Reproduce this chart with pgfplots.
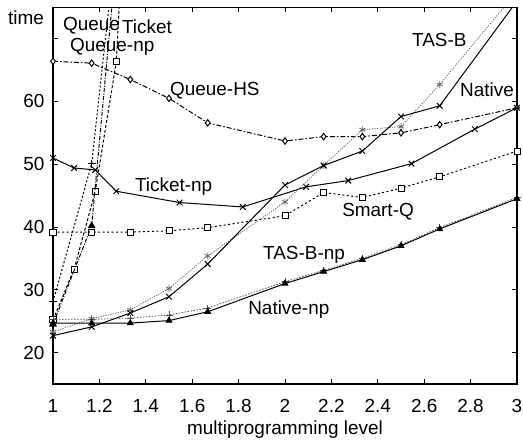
\documentclass[border=0pt]{standalone}
\usepackage{pgfplots}
\pgfplotsset{compat=1.18}
\usepackage{fontspec}
\setmainfont{Liberation Sans}
\begin{document}
\fontsize{19}{22}\selectfont
\begin{tikzpicture}
\begin{axis}[
    name=ax,
    scale only axis,
    width=464bp, height=376.7bp,
    xmin=1, xmax=3, ymin=15, ymax=75,
    xtick={1,1.2,1.4,1.6,1.8,2,2.2,2.4,2.6,2.8,3},
    xticklabels={1,1.2,1.4,1.6,1.8,2,2.2,2.4,2.6,2.8,3},
    ytick={20,30,40,50,60,70},
    yticklabels={20,30,40,50,60,{}},
    tick align=inside,
    major tick length=5bp,
    tick style={black, line width=1bp},
    axis line style={line width=1.2bp},
    xticklabel style={yshift=-9bp},
    yticklabel style={xshift=-2bp},
    xlabel={multiprogramming level},
    xlabel style={at={(axis description cs:0.5,0)}, anchor=base, yshift=-51bp},
    clip mode=individual,
    every axis plot/.append style={line width=1bp, black},
  ]
  % Queue-HS
  \addplot[dash pattern=on 5bp off 2bp on 1.5bp off 2bp, mark=diamond*, mark size=3.2bp,
    mark options={solid, fill=white}] coordinates {
    (1,66.4) (1.1667,66.1) (1.3333,63.5) (1.5,60.5) (1.6667,56.6) (2,53.7)
    (2.1667,54.4) (2.3333,54.4) (2.5,55.0) (2.6667,56.3) (3,59.0)};
  % Ticket-np
  \addplot[solid, mark=x, mark size=4bp] coordinates {
    (1,51.0) (1.0909,49.4) (1.1818,49.1) (1.2727,45.7) (1.5455,43.9) (1.8182,43.2)
    (2.0909,46.4) (2.2727,47.4) (2.5455,50.1) (2.8182,55.6) (3,59.0)};
  % Smart-Q
  \addplot[dash pattern=on 2bp off 2.5bp, mark=square*, mark size=3bp,
    mark options={solid, fill=white}] coordinates {
    (1,39.2) (1.1667,39.2) (1.3333,39.2) (1.5,39.4) (1.6667,39.9) (2,41.8)
    (2.1667,45.5) (2.3333,44.7) (2.5,46.2) (2.6667,48.0) (3,52.1)};
  % Queue-np
  \addplot[dash pattern=on 3bp off 2bp, mark=square*, mark size=3bp, mark indices={1,2,3,4},
    mark options={solid, fill=white}] coordinates {
    (1,25.2) (1.0909,33.3) (1.1818,45.6) (1.2727,66.3) (1.3636,130)};
  % Queue
  \addplot[dash pattern=on 2bp off 2bp, mark=+, mark size=4bp, mark indices={1,2},
    mark options={solid}] coordinates {
    (1,28.1) (1.1667,50.1) (1.3333,106)};
  % Ticket
  \addplot[dash pattern=on 4bp off 1.5bp on 1bp off 1.5bp, mark=triangle*, mark size=3.5bp,
    mark indices={1,2}, mark options={solid}] coordinates {
    (1,24.5) (1.1667,40.2) (1.3333,107)};
  % TAS-B
  \addplot[black!60, line width=0.8bp, dash pattern=on 1.2bp off 1.3bp, mark=asterisk, mark size=3.5bp,
    mark indices={1,2,3,4,5,6,7,8,9,10}, mark options={solid}] coordinates {
    (1,23.3) (1.1667,25.4) (1.3333,26.8) (1.5,30.2) (1.6667,35.4) (2,44.0)
    (2.1667,49.8) (2.3333,55.5) (2.5,56.0) (2.6667,62.7) (3,77.5)};
  % Native
  \addplot[solid, mark=x, mark size=4bp, mark indices={1,2,3,4,5,6,7,8,9,10}] coordinates {
    (1,22.7) (1.1667,24.1) (1.3333,26.3) (1.5,28.9) (1.6667,34.1) (2,46.7)
    (2.1667,49.8) (2.3333,52.1) (2.5,57.6) (2.6667,59.3) (3,76.0)};
  % TAS-B-np
  \addplot[black!70, line width=0.8bp, dash pattern=on 1.5bp off 1.5bp, mark=+, mark size=3.5bp,
    mark options={solid}] coordinates {
    (1,25.3) (1.1667,25.3) (1.3333,25.5) (1.5,26.0) (1.6667,27.1) (2,31.3)
    (2.1667,33.1) (2.3333,35.0) (2.5,37.2) (2.6667,39.9) (3,44.7)};
  % Native-np
  \addplot[solid, mark=triangle*, mark size=3.2bp] coordinates {
    (1,24.7) (1.1667,24.7) (1.3333,24.7) (1.5,25.1) (1.6667,26.5) (2,31.0)
    (2.1667,32.9) (2.3333,34.8) (2.5,37.0) (2.6667,39.7) (3,44.5)};

  \begin{scope}[every node/.style={anchor=base west, inner sep=0pt}]
  \node at (axis cs:1.043,71.3) {Queue};
  \node at (axis cs:1.297,70.9) {Ticket};
  \node at (axis cs:1.073,68.0) {Queue-np};
  \node at (axis cs:1.504,60.9) {Queue-HS};
  \node at (axis cs:1.353,45.7) {Ticket-np};
  \node at (axis cs:2.246,41.6) {Smart-Q};
  \node at (axis cs:1.905,34.8) {TAS-B-np};
  \node at (axis cs:1.841,26.0) {Native-np};
  \node at (axis cs:2.547,68.8) {TAS-B};
  \node at (axis cs:2.754,60.8) {Native};
  \node at ([xshift=-45bp, yshift=-17.7bp]rel axis cs:0,1) {time};
  \end{scope}
\end{axis}
\pgfresetboundingbox
\path[use as bounding box] ([shift={(-53bp,-57bp)}]ax.south west) rectangle ([shift={(6bp,7.3bp)}]ax.north east);
\end{tikzpicture}
\end{document}
